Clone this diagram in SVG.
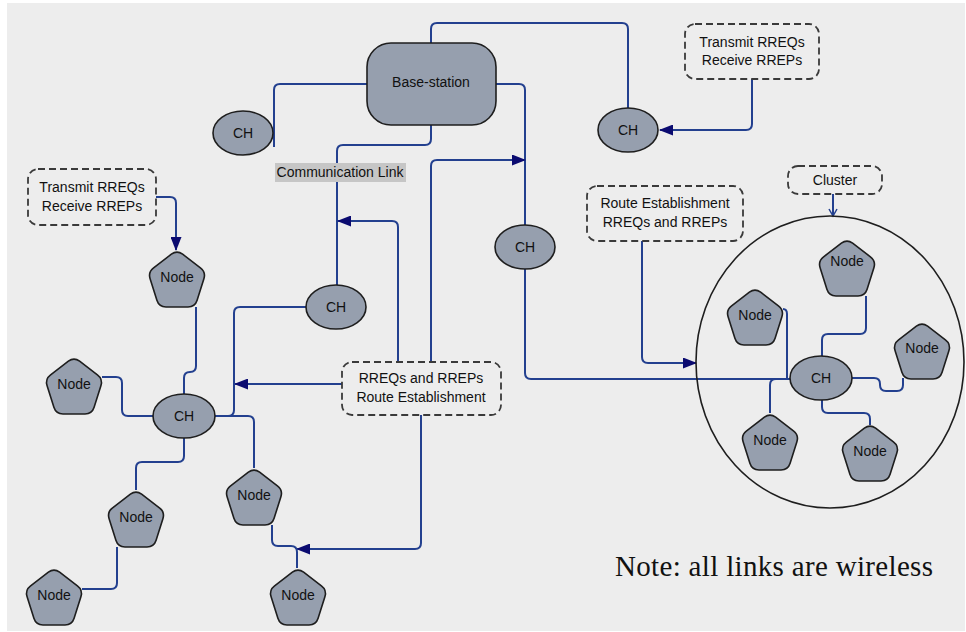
<svg xmlns="http://www.w3.org/2000/svg" xmlns:xlink="http://www.w3.org/1999/xlink" width="966" height="632" viewBox="0 0 966 632">
<style>
  .bg { fill: #ededed; }
  .node { fill: #969fae; stroke: #1e1e1e; stroke-width: 1.6; stroke-linejoin: round; }
  .ch { fill: #969fae; stroke: #1e1e1e; stroke-width: 1.6; }
  .dash { fill: none; stroke: #3a3a3a; stroke-width: 1.8; stroke-dasharray: 7 4; }
  .link { fill: none; stroke: #23408f; stroke-width: 2; }
  .arr { marker-end: url(#ah); }
  .t { font-family: "Liberation Sans", Arial, sans-serif; font-size: 14px; fill: #111; text-anchor: middle; }
  .note { font-family: "Liberation Serif", "Times New Roman", serif; font-size: 29px; fill: #111; }
  .circ { fill: none; stroke: #1e1e1e; stroke-width: 1.6; }
</style>
<defs>
  <marker id="ah" markerUnits="userSpaceOnUse" markerWidth="14" markerHeight="11" refX="13" refY="5.5" orient="auto">
    <path d="M0,0 L14,5.5 L0,11 z" fill="#0b0b70"/>
  </marker>
  <marker id="oa" markerUnits="userSpaceOnUse" markerWidth="10" markerHeight="10" refX="8" refY="5" orient="auto">
    <path d="M1,1 L8,5 L1,9" fill="none" stroke="#23408f" stroke-width="1.5"/>
  </marker>
  <path id="pent" d="M23.4,4.2 Q29,0 34.6,4.2 L52.4,17.8 Q58,22 55.9,28.7 L49.1,50.3 Q47,57 40,57 L18,57 Q11,57 8.9,50.3 L2.1,28.7 Q0,22 5.6,17.8 Z"/>
</defs>

<rect x="0" y="0" width="966" height="632" fill="#ffffff"/>
<rect class="bg" x="7" y="3" width="958" height="628"/>

<g id="connectors">
  <path class="link" d="M431,43 V29 Q431,23 437,23 H622 Q628,23 628,29 V108"/>
  <path class="link" d="M367,84 H280 Q274,84 274,90 V147"/>
  <path class="link" d="M431,125 V139 Q431,145 425,145 H343 Q337,145 337,151 V285"/>
  <path class="link" d="M496,84 H519 Q525,84 525,90 V225"/>
  <path class="link" d="M525,269 V373 Q525,379 531,379 H790"/>
  <path class="link arr" d="M752,79 V124 Q752,130 746,130 H660"/>
  <path class="link arr" d="M156,197 H170 Q176,197 176,203 V250"/>
  <path class="link arr" d="M398,362 V227 Q398,221 392,221 H338"/>
  <path class="link arr" d="M431,362 V166 Q431,160 437,160 H525"/>
  <path class="link arr" d="M342,384 H235"/>
  <path class="link arr" d="M421,415 V543 Q421,549 415,549 H297"/>
  <path class="link arr" d="M642,241 V357 Q642,363 648,363 H696"/>
  <path class="link" d="M833,194 V216" marker-end="url(#oa)"/>
  <path class="link" d="M306,307 H240 Q234,307 234,313 V410 Q234,416 228,416 H215"/>
  <path class="link" d="M215,416 H248 Q254,416 254,422 V468"/>
  <path class="link" d="M196,307 V366 Q196,372 190,372 Q184,372 184,378 V394"/>
  <path class="link" d="M102,377 H116 Q122,377 122,383 V410 Q122,416 128,416 H154"/>
  <path class="link" d="M184,438 V456 Q184,462 178,462 H142 Q136,462 136,468 V490"/>
  <path class="link" d="M117,547 V583 Q117,589 111,589 H82"/>
  <path class="link" d="M272,525 V540 Q272,546 278,546 H291 Q297,546 297,552 V568"/>
  <path class="link" d="M866,296 V328 Q866,334 860,334 H828 Q822,334 822,340 V357"/>
  <path class="link" d="M783,309 Q787,309 787,314 V378"/>
  <path class="link" d="M770,413 V385 Q770,379 776,379 H790"/>
  <path class="link" d="M852,378 H874 Q880,378 880,384 V385 Q880,391 886,391 H897 Q903,391 903,385 V378"/>
  <path class="link" d="M822,400 V407 Q822,413 828,413 H864 Q870,413 870,419 V425"/>
</g>

<g id="label-communication-link">
  <rect x="275" y="163" width="131" height="19" fill="#c6c6c6"/>
  <text class="t" x="340" y="177">Communication Link</text>
</g>

<g id="cluster-circle">
  <ellipse class="circ" cx="830" cy="362" rx="134" ry="146"/>
</g>

<g id="base-station">
  <rect class="node" x="367" y="43" width="129" height="82" rx="24"/>
  <text class="t" x="431" y="87">Base-station</text>
</g>

<g id="ch-top-left"><ellipse class="ch" cx="243" cy="133" rx="30" ry="22"/><text class="t" x="243" y="138">CH</text></g>
<g id="ch-top-right"><ellipse class="ch" cx="628" cy="130" rx="30" ry="22"/><text class="t" x="628" y="135">CH</text></g>
<g id="ch-mid"><ellipse class="ch" cx="336" cy="307" rx="30" ry="22"/><text class="t" x="336" y="312">CH</text></g>
<g id="ch-right"><ellipse class="ch" cx="525" cy="247" rx="30" ry="22"/><text class="t" x="525" y="252">CH</text></g>
<g id="ch-left"><ellipse class="ch" cx="184" cy="416" rx="31" ry="22"/><text class="t" x="184" y="421">CH</text></g>
<g id="ch-cluster"><ellipse class="ch" cx="821" cy="378" rx="31" ry="22"/><text class="t" x="821" y="383">CH</text></g>

<g id="node-l1"><use href="#pent" class="node" x="148" y="250"/><text class="t" x="177" y="282">Node</text></g>
<g id="node-l2"><use href="#pent" class="node" x="45" y="357"/><text class="t" x="74" y="389">Node</text></g>
<g id="node-l3"><use href="#pent" class="node" x="107" y="490"/><text class="t" x="136" y="522">Node</text></g>
<g id="node-l4"><use href="#pent" class="node" x="25" y="568"/><text class="t" x="54" y="600">Node</text></g>
<g id="node-l5"><use href="#pent" class="node" x="225" y="468"/><text class="t" x="254" y="500">Node</text></g>
<g id="node-l6"><use href="#pent" class="node" x="269" y="568"/><text class="t" x="298" y="600">Node</text></g>
<g id="node-c1"><use href="#pent" class="node" x="818" y="239"/><text class="t" x="847" y="266">Node</text></g>
<g id="node-c2"><use href="#pent" class="node" x="726" y="288"/><text class="t" x="755" y="320">Node</text></g>
<g id="node-c3"><use href="#pent" class="node" x="893" y="322"/><text class="t" x="922" y="353">Node</text></g>
<g id="node-c4"><use href="#pent" class="node" x="741" y="413"/><text class="t" x="770" y="445">Node</text></g>
<g id="node-c5"><use href="#pent" class="node" x="841" y="424"/><text class="t" x="870" y="456">Node</text></g>

<g id="box-transmit-top">
  <rect class="dash" x="685" y="24" width="134" height="55" rx="10"/>
  <text class="t" x="752" y="47">Transmit RREQs</text>
  <text class="t" x="752" y="65">Receive RREPs</text>
</g>
<g id="box-transmit-left">
  <rect class="dash" x="28" y="169" width="128" height="56" rx="10"/>
  <text class="t" x="92" y="192">Transmit RREQs</text>
  <text class="t" x="92" y="211">Receive RREPs</text>
</g>
<g id="box-rreqs">
  <rect class="dash" x="342" y="362" width="159" height="53" rx="10"/>
  <text class="t" x="421" y="383">RREQs and RREPs</text>
  <text class="t" x="421" y="402">Route Establishment</text>
</g>
<g id="box-route">
  <rect class="dash" x="587" y="186" width="156" height="55" rx="10"/>
  <text class="t" x="665" y="208">Route Establishment</text>
  <text class="t" x="665" y="227">RREQs and RREPs</text>
</g>
<g id="box-cluster">
  <rect class="dash" x="788" y="166" width="94" height="28" rx="10"/>
  <text class="t" x="835" y="185">Cluster</text>
</g>

<g id="note">
  <text class="note" x="615" y="576" textLength="318" lengthAdjust="spacing">Note: all links are wireless</text>
</g>
</svg>
